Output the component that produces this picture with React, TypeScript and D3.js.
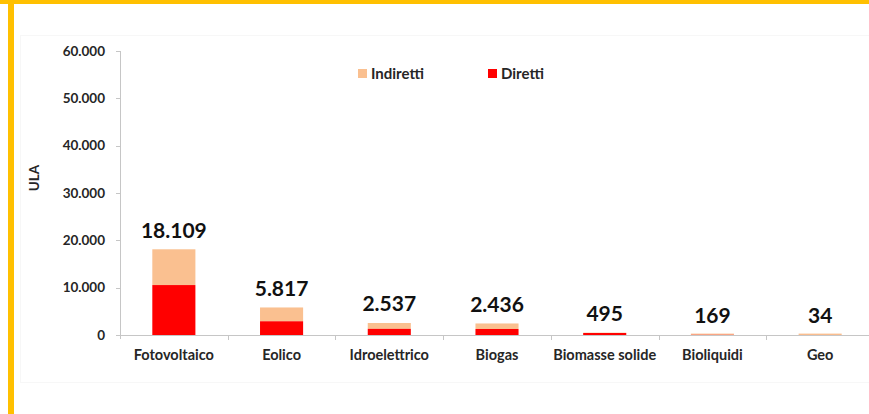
import React from "react";
import * as d3 from "d3";

const categories = ["Fotovoltaico", "Eolico", "Idroelettrico", "Biogas", "Biomasse solide", "Bioliquidi", "Geo"];
const totals = [18109, 5817, 2537, 2436, 495, 169, 34];
const direct = [10550, 2900, 1300, 1270, 420, 40, 5];
const yTicks = [0, 10000, 20000, 30000, 40000, 50000, 60000];
const seriesNames = ["Indiretti", "Diretti"];
const seriesColors = ["#FAC090", "#FF0000"];

const W = 869;
const H = 414;
const FONT = "Lato, 'Open Sans', sans-serif";

const fmt = (v: number) => d3.format(",")(v).replace(/,/g, ".");

export default function App() {
  const x = d3.scaleBand<string>().domain(categories).range([120, 874]).paddingInner(0.6).paddingOuter(0.3);
  const y = d3.scaleLinear().domain([0, 60000]).range([335, 51]);
  const step = x.step();
  const axisColor = "#c6c6c6";

  return (
    <svg width={W} height={H} style={{ position: "absolute", left: 0, top: 0, background: "#fff" }} fontFamily={FONT}>
      {/* frame */}
      <rect x={0} y={0} width={W} height={4} fill="#FFC000" />
      <rect x={8} y={0} width={6} height={H} fill="#FFC000" />
      <rect x={20.5} y={35.5} width={W} height={347} fill="none" stroke="#f7f7f7" />

      {/* y axis */}
      <line x1={120.5} x2={120.5} y1={y(60000)} y2={y(0) + 4} stroke={axisColor} />
      {yTicks.map((t) => (
        <g key={t}>
          <line x1={116} x2={120.5} y1={Math.round(y(t)) + 0.5} y2={Math.round(y(t)) + 0.5} stroke={axisColor} />
          <text x={105} y={y(t) + 4.5} textAnchor="end" fontSize={13.5} fontWeight={700} fill="#262626">
            {fmt(t)}
          </text>
        </g>
      ))}
      <text
        transform={`translate(39,178) rotate(-90)`}
        textAnchor="middle"
        fontSize={13.5}
        fontWeight={700}
        fill="#262626"
      >
        ULA
      </text>

      {/* bars */}
      {categories.map((c, i) => {
        const x0 = x(c)!;
        const bw = x.bandwidth();
        const hd = y(0) - y(direct[i]);
        const ht = Math.max(1.4, y(0) - y(totals[i]));
        return (
          <g key={c}>
            <rect x={x0} y={y(0) - ht} width={bw} height={ht - hd} fill={seriesColors[0]} />
            <rect x={x0} y={y(0) - hd} width={bw} height={hd} fill={seriesColors[1]} />
            <text
              x={x0 + bw / 2}
              y={y(totals[i]) - 11.5}
              textAnchor="middle"
              fontSize={21}
              fontWeight={700}
              fill="#111"
            >
              {fmt(totals[i])}
            </text>
            <text x={x0 + bw / 2} y={360} textAnchor="middle" fontSize={14.5} fontWeight={700} fill="#262626">
              {c}
            </text>
          </g>
        );
      })}

      {/* x axis */}
      <line x1={120} x2={W} y1={335.5} y2={335.5} stroke={axisColor} />
      {categories.map((c, i) => (
        <line
          key={c}
          x1={Math.round(120 + (i + 1) * step) + 0.5}
          x2={Math.round(120 + (i + 1) * step) + 0.5}
          y1={335.5}
          y2={340}
          stroke={axisColor}
        />
      ))}

      {/* legend */}
      {seriesNames.map((s, i) => {
        const lx = i === 0 ? 358 : 488;
        return (
          <g key={s}>
            <rect x={lx} y={69} width={9} height={9} fill={seriesColors[i]} />
            <text x={lx + 13} y={78.5} fontSize={15} fontWeight={700} fill="#262626">
              {s}
            </text>
          </g>
        );
      })}
    </svg>
  );
}
